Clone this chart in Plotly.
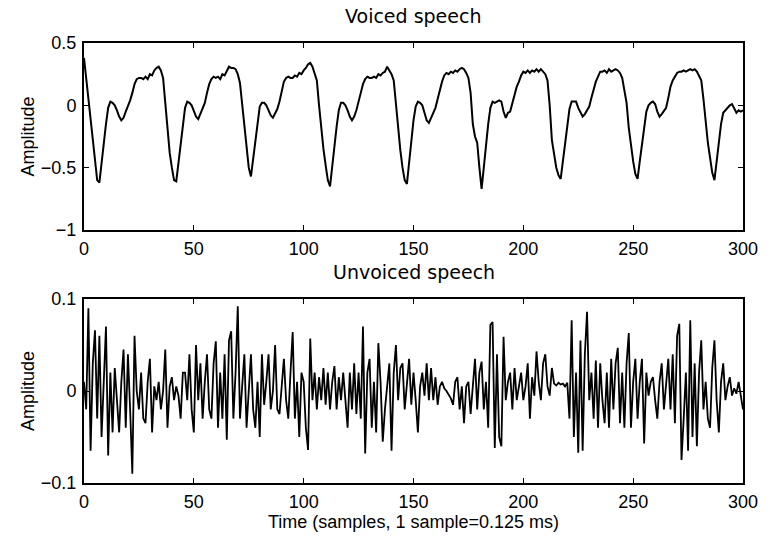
import plotly.graph_objects as go
from plotly.subplots import make_subplots

# ---- data ----
voiced = [
    0.38, 0.22, 0.05, -0.12, -0.30, -0.45, -0.60, -0.62, -0.45, -0.30,
    -0.15, -0.02, 0.03, 0.02, 0.00, -0.04, -0.09, -0.12, -0.10, -0.05,
    -0.01, 0.04, 0.10, 0.17, 0.21, 0.22, 0.22, 0.21, 0.23, 0.21,
    0.25, 0.24, 0.28, 0.30, 0.31, 0.28, 0.22, 0.02, -0.20, -0.38,
    -0.50, -0.60, -0.61, -0.45, -0.30, -0.15, -0.02, 0.03, 0.02, 0.00,
    -0.05, -0.09, -0.11, -0.07, -0.03, 0.02, 0.10, 0.17, 0.21, 0.23,
    0.22, 0.23, 0.21, 0.25, 0.24, 0.27, 0.31, 0.30, 0.30, 0.29,
    0.25, 0.18, 0.00, -0.20, -0.38, -0.50, -0.57, -0.42, -0.27, -0.12,
    -0.01, 0.02, 0.02, 0.00, -0.04, -0.08, -0.10, -0.07, -0.03, 0.03,
    0.12, 0.19, 0.22, 0.23, 0.22, 0.22, 0.24, 0.23, 0.26, 0.25,
    0.28, 0.30, 0.33, 0.34, 0.31, 0.26, 0.20, 0.00, -0.20, -0.35,
    -0.48, -0.60, -0.65, -0.48, -0.32, -0.17, -0.04, 0.02, 0.02, 0.00,
    -0.04, -0.09, -0.12, -0.09, -0.04, 0.02, 0.10, 0.17, 0.21, 0.23,
    0.22, 0.22, 0.23, 0.22, 0.25, 0.24, 0.26, 0.27, 0.31, 0.28,
    0.25, 0.20, 0.00, -0.20, -0.36, -0.50, -0.60, -0.63, -0.45, -0.28,
    -0.12, -0.01, 0.03, 0.02, 0.00, -0.06, -0.12, -0.14, -0.10, -0.06,
    -0.02, 0.05, 0.13, 0.19, 0.24, 0.26, 0.25, 0.27, 0.26, 0.28,
    0.27, 0.29, 0.30, 0.29, 0.26, 0.22, 0.10, -0.15, -0.25, -0.30,
    -0.50, -0.67, -0.50, -0.30, -0.15, -0.02, 0.03, 0.02, 0.03, 0.04,
    0.03, -0.05, -0.10, -0.06, -0.05, 0.02, 0.10, 0.15, 0.19, 0.24,
    0.27, 0.26, 0.28, 0.26, 0.28, 0.27, 0.29, 0.27, 0.29, 0.27,
    0.25, 0.20, 0.00, -0.28, -0.40, -0.50, -0.56, -0.59, -0.45, -0.30,
    -0.15, -0.03, 0.03, 0.03, 0.03, -0.02, -0.06, -0.09, -0.07, -0.04,
    -0.01, 0.06, 0.13, 0.19, 0.23, 0.27, 0.27, 0.28, 0.26, 0.29,
    0.27, 0.28, 0.29, 0.28, 0.26, 0.22, 0.12, 0.02, -0.18, -0.33,
    -0.45, -0.55, -0.59, -0.45, -0.30, -0.17, -0.05, 0.00, 0.02, 0.03,
    0.01, -0.05, -0.09, -0.07, -0.04, -0.02, 0.06, 0.15, 0.20, 0.23,
    0.26, 0.27, 0.27, 0.28, 0.27, 0.28, 0.29, 0.28, 0.29, 0.27,
    0.24, 0.20, 0.05, -0.15, -0.30, -0.42, -0.54, -0.60, -0.45, -0.30,
    -0.15, -0.06, -0.04, -0.02, 0.00, 0.01, -0.03, -0.06, -0.04, -0.05,
    -0.04,
]

unvoiced = [
    0.010, -0.020, 0.090, -0.065, 0.030, 0.066, -0.030, 0.060, -0.050, 0.020,
    0.070, -0.070, 0.020, -0.045, 0.025, -0.010, -0.045, 0.010, 0.045, -0.040,
    0.040, -0.020, -0.090, 0.060, 0.000, -0.020, 0.020, -0.030, -0.035, 0.010,
    0.035, -0.045, 0.005, -0.010, 0.010, -0.020, 0.000, 0.045, -0.040, 0.005,
    0.015, -0.010, 0.005, -0.005, -0.030, 0.020, 0.020, -0.010, 0.040, -0.020,
    -0.045, 0.050, -0.010, 0.030, -0.030, 0.010, 0.040, -0.020, -0.030, 0.030,
    0.054, -0.040, 0.020, -0.030, 0.040, -0.053, 0.055, 0.065, -0.030, 0.020,
    0.092, -0.030, 0.010, 0.040, -0.040, 0.000, 0.040, -0.020, -0.040, 0.010,
    -0.050, 0.040, -0.015, 0.010, 0.040, -0.020, 0.000, 0.050, -0.020, -0.025,
    0.010, 0.035, -0.010, -0.030, 0.020, 0.064, -0.030, 0.010, -0.050, 0.020,
    0.010, -0.040, -0.064, 0.057, -0.010, 0.020, -0.020, 0.015, -0.010, 0.025,
    -0.015, 0.020, -0.020, 0.010, 0.027, -0.020, 0.015, -0.010, 0.020, -0.015,
    -0.040, 0.020, -0.020, 0.030, -0.025, 0.020, -0.030, 0.070, -0.068, 0.020,
    0.035, -0.040, 0.010, -0.045, 0.052, 0.010, -0.055, -0.020, 0.010, 0.030,
    -0.065, 0.020, 0.050, -0.010, 0.025, 0.030, -0.020, 0.005, 0.035, -0.015,
    0.020, -0.010, -0.045, 0.005, 0.020, -0.005, 0.030, -0.010, 0.025, -0.010,
    0.015, -0.015, 0.005, 0.010, 0.003, 0.000, -0.004, -0.008, -0.015, 0.010,
    0.015, -0.020, 0.005, -0.035, 0.005, 0.010, -0.025, 0.010, 0.035, -0.020,
    0.020, 0.032, -0.020, 0.010, -0.040, 0.072, 0.075, -0.062, 0.040, -0.050,
    -0.060, 0.059, -0.010, 0.010, 0.020, -0.020, 0.025, -0.010, 0.005, 0.020,
    -0.010, 0.005, 0.030, -0.030, 0.015, -0.005, 0.043, 0.010, -0.010, 0.030,
    0.040, 0.005, -0.005, 0.025, 0.008, 0.006, 0.009, 0.007, 0.008, 0.005,
    0.009, -0.030, 0.077, -0.050, 0.020, -0.067, 0.055, -0.065, 0.040, 0.086,
    -0.010, 0.020, -0.030, 0.033, -0.040, 0.030, -0.010, -0.035, 0.020, -0.040,
    0.035, -0.020, 0.030, 0.047, -0.035, 0.020, -0.040, 0.030, 0.063, -0.040,
    0.010, 0.035, -0.030, 0.010, 0.035, -0.057, 0.020, -0.005, 0.010, 0.015,
    -0.010, -0.030, 0.010, 0.030, -0.020, 0.010, 0.035, -0.020, 0.040, -0.035,
    0.060, 0.073, -0.075, -0.030, 0.020, -0.065, 0.077, -0.050, 0.030, -0.060,
    0.020, 0.055, -0.020, 0.010, -0.030, -0.040, 0.025, 0.055, -0.010, -0.045,
    0.010, 0.030, -0.010, 0.005, 0.015, -0.005, 0.003, -0.003, 0.010, -0.005,
    -0.020,
]

samples_v = list(range(len(voiced)))
samples_u = list(range(len(unvoiced)))

x_ticks = [0, 50, 100, 150, 200, 250, 300]
y_ticks_top = [-1, -0.5, 0, 0.5]
y_ticks_bot = [-0.1, 0, 0.1]

titles = ["Voiced speech", "Unvoiced speech"]
x_label = "Time (samples, 1 sample=0.125 ms)"
y_label = "Amplitude"

# ---- figure ----
W, H = 770, 544
ML, MR, MT, MB = 84, 21, 43, 61
plot_h = H - MT - MB  # 440
top_px, bot_px = 230, 299
dom_top = [(H - MB - top_px) / plot_h, 1.0]
dom_bot = [0.0, (H - MB - bot_px) / plot_h]

fig = make_subplots(rows=2, cols=1)
fig.add_trace(go.Scatter(x=samples_v, y=voiced, mode="lines",
                         line=dict(color="black", width=2), showlegend=False),
              row=1, col=1)
fig.add_trace(go.Scatter(x=samples_u, y=unvoiced, mode="lines",
                         line=dict(color="black", width=1.8), showlegend=False),
              row=2, col=1)

sans = "Liberation Sans, Arial, sans-serif"
tick_font = dict(family=sans, size=18, color="black")
axis_common = dict(showline=True, linecolor="black", linewidth=2, mirror="ticks",
                   ticks="inside", ticklen=5, tickwidth=1.4, tickcolor="black",
                   showgrid=False, zeroline=False, tickfont=tick_font)

fig.update_xaxes(range=[0, 300], tickvals=x_ticks, ticklabelstandoff=1, **axis_common)
fig.update_xaxes(domain=[0, 1], row=1, col=1)
fig.update_xaxes(domain=[0, 1], row=2, col=1,
                 title=dict(text=x_label, standoff=3,
                            font=dict(family=sans, size=18, color="black")))
fig.update_yaxes(ticklabelstandoff=2, **axis_common)
fig.update_yaxes(range=[-1, 0.5], tickvals=y_ticks_top, domain=dom_top,
                 title=dict(text=y_label, standoff=2,
                            font=dict(family=sans, size=18, color="black")),
                 row=1, col=1)
fig.update_yaxes(range=[-0.1, 0.1], tickvals=y_ticks_bot, domain=dom_bot,
                 title=dict(text=y_label, standoff=2,
                            font=dict(family=sans, size=18, color="black")),
                 row=2, col=1)

title_font = dict(family="DejaVu Sans, sans-serif", size=19, color="black")
for txt, ypx in zip(titles, [16, 272]):
    fig.add_annotation(text=txt, xref="paper", yref="paper", x=0.5,
                       y=(H - MB - ypx) / plot_h, xanchor="center", yanchor="middle",
                       showarrow=False, font=title_font)

fig.update_layout(width=W, height=H, margin=dict(l=ML, r=MR, t=MT, b=MB),
                  paper_bgcolor="white", plot_bgcolor="white")

fig.write_html("out.html")
